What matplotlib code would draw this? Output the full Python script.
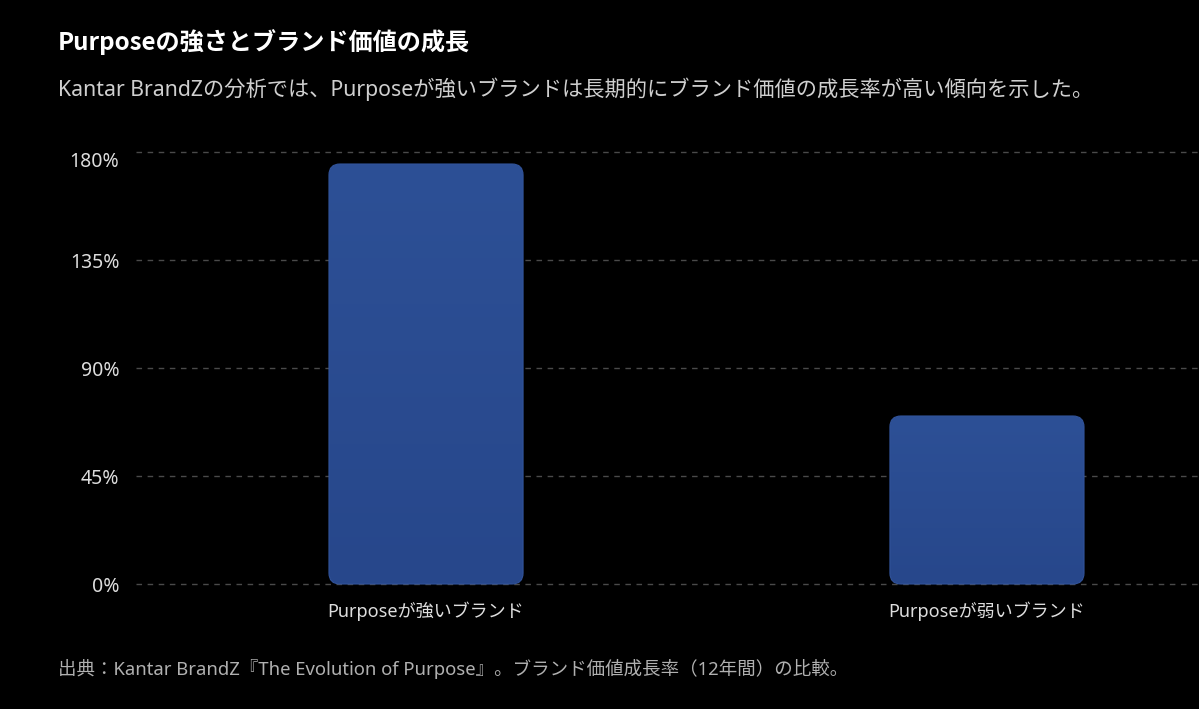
import matplotlib

matplotlib.use("Agg")
import matplotlib.pyplot as plt
import numpy as np
from matplotlib.colors import LinearSegmentedColormap
from matplotlib.patches import FancyBboxPatch

plt.rcParams["font.family"] = ["Noto Sans", "Noto Sans CJK JP", "DejaVu Sans"]

categories = ["Purposeが強いブランド", "Purposeが弱いブランド"]
growth = [175, 70]
yticks = [0, 45, 90, 135, 180]
ytick_labels = ["0%", "45%", "90%", "135%", "180%"]

title = "Purposeの強さとブランド価値の成長"
subtitle = "Kantar BrandZの分析では、Purposeが強いブランドは長期的にブランド価値の成長率が高い傾向を示した。"
source = "出典：Kantar BrandZ『The Evolution of Purpose』。ブランド価値成長率（12年間）の比較。"

W, H = 1199, 709
BG = "#000000"
LEFT = 136

fig = plt.figure(figsize=(W / 100, H / 100), dpi=100, facecolor=BG)

# axes box in pixels: y value 0 sits at 584px, 180 at 152px
ylo, yhi = -2, 184
px_per_unit = (584 - 152) / 180
top_px = 152 - (yhi - 180) * px_per_unit
bot_px = 584 + (0 - ylo) * px_per_unit
ax = fig.add_axes([LEFT / W, 1 - bot_px / H, (W - LEFT) / W, (bot_px - top_px) / H])
ax.set_facecolor(BG)
ax.set_xlim(-0.517, 1.378)
ax.set_ylim(ylo, yhi)

for y in yticks:
    ax.axhline(y, color="#4a4a4a", lw=1, ls=(0, (4, 4)), zorder=1)

x = np.arange(len(categories))
bars = ax.bar(x, growth, width=0.346, color="none", zorder=2)

grad = LinearSegmentedColormap.from_list("bar", ["#27478b", "#2d5096"])
xr = ax.get_xlim()
x_unit_px = (W - LEFT) / (xr[1] - xr[0])
rad_px = 11
for b in bars:
    x0, w, h = b.get_x(), b.get_width(), b.get_height()
    patch = FancyBboxPatch(
        (x0, 0), w, h,
        boxstyle=f"round,pad=0,rounding_size={rad_px / x_unit_px}",
        mutation_aspect=x_unit_px / px_per_unit,
        facecolor="none", edgecolor="#31539a", lw=0.8, zorder=3,
    )
    ax.add_patch(patch)
    img = ax.imshow(
        np.linspace(0, 1, 256).reshape(-1, 1), cmap=grad, origin="lower",
        extent=(x0, x0 + w, 0, h), aspect="auto", zorder=2,
    )
    img.set_clip_path(patch)
    b.remove()

ax.set_xlim(xr)
ax.set_ylim(ylo, yhi)
ax.set_xticks(x)
ax.set_xticklabels(categories, color="#dddddd", fontsize=13)
ax.set_yticks(yticks)
ax.set_yticklabels(ytick_labels, color="#dddddd", fontsize=14)
ax.get_yticklabels()[-1].set_va("top")
ax.tick_params(axis="x", length=0, pad=9)
ax.tick_params(axis="y", length=0, pad=12)
for s in ax.spines.values():
    s.set_visible(False)

fig.text(58 / W, 1 - 42 / H, title, color="#ffffff", fontsize=17.4, fontweight="bold",
         family=["Noto Sans CJK JP", "DejaVu Sans"], va="center", ha="left")
fig.text(58 / W, 1 - 89 / H, subtitle, color="#cfcfcf", fontsize=15.3, va="center", ha="left")
fig.text(58 / W, 1 - 669 / H, source, color="#b0b0b0", fontsize=13.3, va="center", ha="left")

fig.savefig("out.png", dpi=100, facecolor=BG)
